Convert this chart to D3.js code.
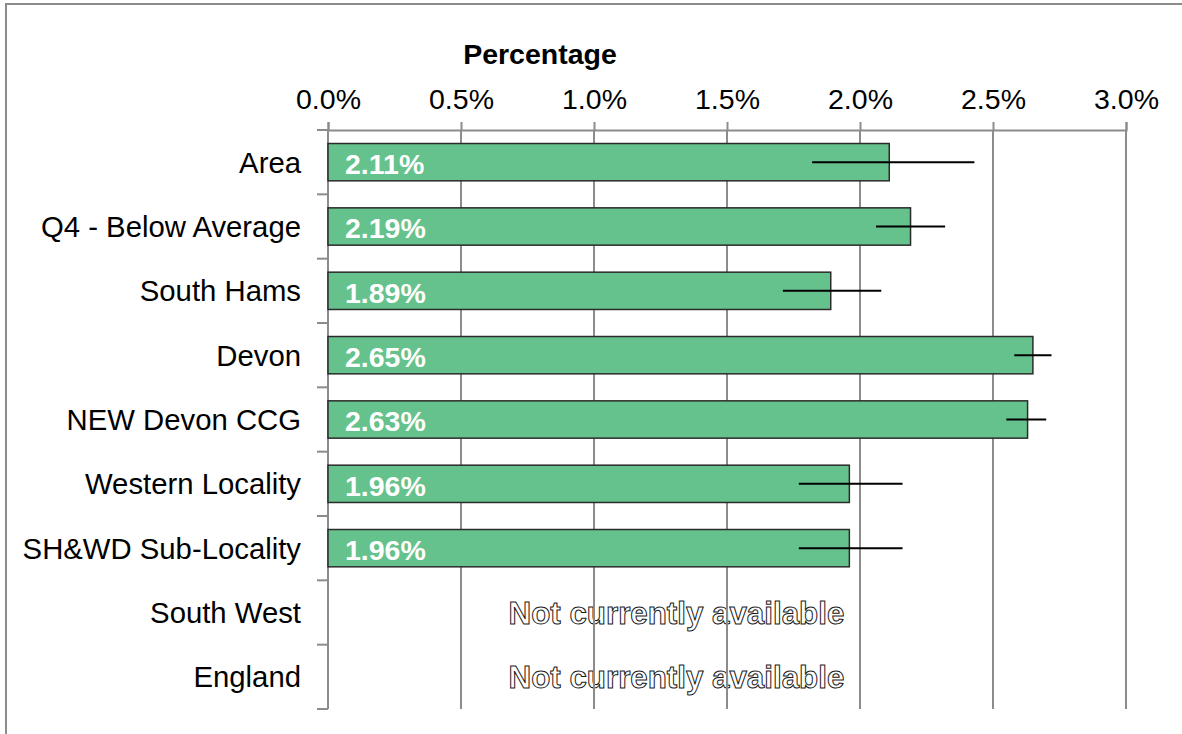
<!DOCTYPE html>
<html>
<head>
<meta charset="utf-8">
<script src="https://cdn.jsdelivr.net/npm/d3@7"></script>
<style>
  body{margin:0;background:#fff;overflow:hidden;}
  svg text{font-family:"Liberation Sans",Arial,sans-serif;}
</style>
</head>
<body>
<svg id="chart" width="1182" height="734"></svg>
<script>
// data
var categories = ["Area","Q4 - Below Average","South Hams","Devon","NEW Devon CCG","Western Locality","SH&WD Sub-Locality","South West","England"];
var values   = [2.11, 2.19, 1.89, 2.65, 2.63, 1.96, 1.96, null, null];
var lowerCI  = [1.82, 2.06, 1.71, 2.58, 2.55, 1.77, 1.77, null, null];
var upperCI  = [2.43, 2.32, 2.08, 2.72, 2.70, 2.16, 2.16, null, null];
var xTicks   = [0, 0.5, 1.0, 1.5, 2.0, 2.5, 3.0];
var naText   = "Not currently available";

var svg = d3.select("#chart");
// note: "top" is taken by window.top, so plot* names
var plotLeft = 328, plotRight = 1126, plotTop = 130, plotBottom = 709;
var fs = "28.5px";

// outer frame (runs off the right and bottom)
svg.append("rect").attr("x",6).attr("y",4).attr("width",1300).attr("height",800)
    .attr("fill","none").attr("stroke","#8c8c8c").attr("stroke-width",2);

var x = d3.scaleLinear().domain([0,3]).range([plotLeft,plotRight]);
var y = d3.scaleBand().domain(categories).range([plotTop,plotBottom]).paddingInner(0.42).paddingOuter(0.21);

var rows = categories.map(function(c,i){return {cat:c,v:values[i],lo:lowerCI[i],hi:upperCI[i]};});
var have = rows.filter(function(r){return r.v!=null;});

// not available rows (outlined text, gridlines pass over it)
svg.append("g").selectAll("text").data(rows.filter(function(r){return r.v==null;})).enter().append("text")
    .attr("x",x(1.31)).attr("y",function(d){return y(d.cat)+y.bandwidth()/2;})
    .attr("dy","0.36em").attr("text-anchor","middle").attr("font-size","31.3px").attr("font-weight","bold")
    .attr("fill","#fff").attr("stroke","#1a1a1a").attr("stroke-width",1)
    .text(naText);

// gridlines
svg.append("g").selectAll("line").data(xTicks.slice(1)).enter().append("line")
    .attr("x1",function(d){return x(d);}).attr("x2",function(d){return x(d);})
    .attr("y1",plotTop).attr("y2",plotBottom)
    .attr("stroke","#8c8c8c").attr("stroke-width",2);

// top axis
var xAxis = svg.append("g").attr("transform","translate(0,"+plotTop+")")
    .call(d3.axisTop(x).tickValues(xTicks).tickSize(8).tickPadding(13)
        .tickFormat(function(d){return d.toFixed(1)+"%";}));
xAxis.select(".domain").attr("stroke","#8c8c8c").attr("stroke-width",2);
xAxis.selectAll(".tick line").attr("stroke","#8c8c8c").attr("stroke-width",2);
xAxis.selectAll(".tick text").attr("font-size",fs).attr("fill","#000")
    .style("font-family","'Liberation Sans',Arial,sans-serif");

svg.append("text").attr("x",540).attr("y",64).attr("text-anchor","middle")
    .attr("font-size",fs).attr("font-weight","bold").text("Percentage");

// left axis, ticks at the band boundaries
var yAxisG = svg.append("g");
yAxisG.append("line").attr("x1",plotLeft).attr("x2",plotLeft).attr("y1",plotTop).attr("y2",plotBottom)
    .attr("stroke","#8c8c8c").attr("stroke-width",2);
var bounds = d3.range(categories.length+1).map(function(i){return plotTop + i*y.step();});
yAxisG.selectAll("line.tk").data(bounds).enter().append("line").attr("class","tk")
    .attr("x1",plotLeft-11).attr("x2",plotLeft).attr("y1",function(d){return d;}).attr("y2",function(d){return d;})
    .attr("stroke","#8c8c8c").attr("stroke-width",2);
yAxisG.selectAll("text").data(categories).enter().append("text")
    .attr("x",301).attr("y",function(d){return y(d)+y.bandwidth()/2;})
    .attr("dy","0.36em").attr("text-anchor","end").attr("font-size","29.3px").attr("fill","#000")
    .text(function(d){return d;});

// bars
svg.append("g").selectAll("rect").data(have).enter().append("rect")
    .attr("x",x(0)).attr("y",function(d){return y(d.cat);})
    .attr("width",function(d){return x(d.v)-x(0);}).attr("height",y.bandwidth())
    .attr("fill","#66c28d").attr("stroke","#2b2b2b").attr("stroke-width",1.5);

// error bars
svg.append("g").selectAll("line").data(have).enter().append("line")
    .attr("x1",function(d){return x(d.lo);}).attr("x2",function(d){return x(d.hi);})
    .attr("y1",function(d){return y(d.cat)+y.bandwidth()/2;})
    .attr("y2",function(d){return y(d.cat)+y.bandwidth()/2;})
    .attr("stroke","#000").attr("stroke-width",2);

// value labels
svg.append("g").selectAll("text").data(have).enter().append("text")
    .attr("x",x(0)+17).attr("y",function(d){return y(d.cat)+y.bandwidth()/2;})
    .attr("dy","0.42em").attr("font-size",fs).attr("font-weight","bold").attr("fill","#fff")
    .text(function(d){return d.v.toFixed(2)+"%";});
</script>
</body>
</html>
